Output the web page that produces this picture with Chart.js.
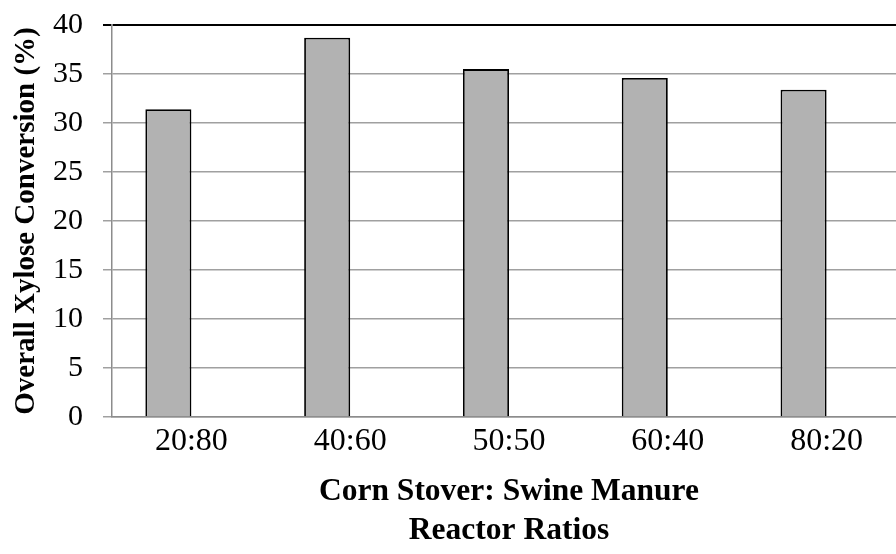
<!DOCTYPE html>
<html><head><meta charset="utf-8">
<script src="https://cdn.jsdelivr.net/npm/chart.js@4/dist/chart.umd.min.js"></script>
<style>html,body{margin:0;padding:0;background:#fff;overflow:hidden;width:896px;height:554px}
#wrap{width:906px;height:564px;margin-top:-10px}
canvas{display:block}</style>
</head><body><div id="wrap"><canvas id="c" width="906" height="564"></canvas></div>
<script>
const categories = ['20:80','40:60','50:50','60:40','80:20'];
const conversion = [31.4, 38.7, 35.5, 34.6, 33.4];
const emptySeries = [null, null, null, null, null];
const yTicks = [0,5,10,15,20,25,30,35,40];

const serif = '"Liberation Serif", "Times New Roman", serif';
new Chart(document.getElementById('c'), {
  type: 'bar',
  data: {
    labels: categories,
    datasets: [
      {data: conversion, backgroundColor:'#b2b2b2', borderColor:'#000', borderWidth:1.8, borderSkipped:'bottom'},
      {data: emptySeries, backgroundColor:'#b2b2b2'}
    ]
  },
  options: {
    responsive:false, animation:false,
    devicePixelRatio:1,
    categoryPercentage:0.58, barPercentage:1,
    layout:{padding:0},
    plugins:{legend:{display:false}, tooltip:{enabled:false}},
    scales:{
      x:{
        grid:{display:false, drawTicks:false},
        border:{display:true, color:'#8c8c8c', width:1.5},
        ticks:{color:'#000', font:{family:serif, size:32, lineHeight:1.2}, padding:5},
        title:{display:true, text:['Corn Stover: Swine Manure','Reactor Ratios'], color:'#000',
               font:{family:serif, size:31.5, weight:'bold', lineHeight:1.25}, padding:{top:0,bottom:3}},
        afterFit(s){ s.height = 137; }
      },
      y:{
        min:0, max:40,
        afterBuildTicks(s){ s.ticks = yTicks.map(v=>({value:v})); },
        grid:{color:(ctx)=> ctx.tick && ctx.tick.value===40 ? '#000' : '#a0a0a0',
              lineWidth:(ctx)=> ctx.tick && ctx.tick.value===40 ? 2 : 1.5,
              drawTicks:true, tickLength:9},
        border:{display:true, color:'#8c8c8c', width:1.5},
        ticks:{color:'#000', font:{family:serif, size:30, lineHeight:1}, padding:20},
        title:{display:true, text:'Overall Xylose Conversion (%)', color:'#000',
               font:{family:serif, size:29, weight:'bold', lineHeight:1.85}, padding:0},
        afterFit(s){ s.width = 112; }
      }
    }
  }
});
</script></body></html>
